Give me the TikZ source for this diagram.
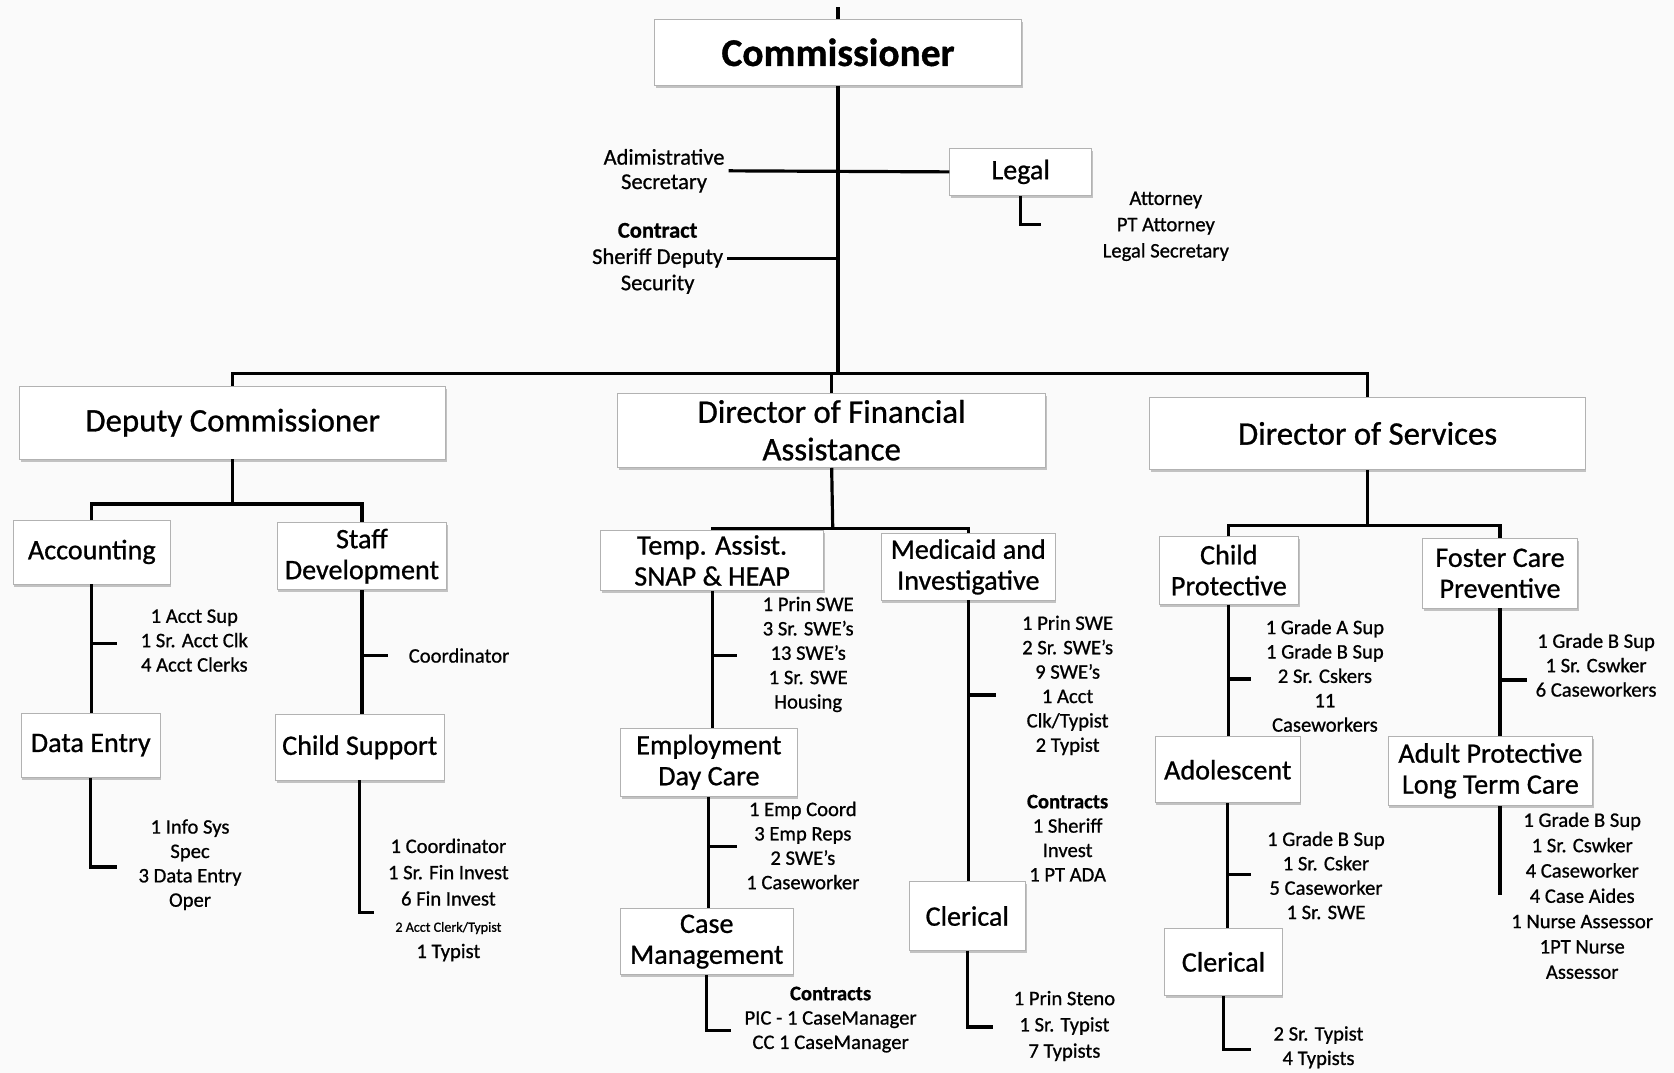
\documentclass[tikz,border=0pt]{standalone}
\usepackage{fontspec}
\setmainfont{Carlito}[FakeBold=0.8]
\usetikzlibrary{positioning, shadows}
\tikzset{%
	conn/.style = {line width = 1.7pt},
	box/.style = {name = #1, draw = gray!60, fill = white, align = center, inner sep = 2pt,
		drop shadow = {shadow xshift = 0.6pt, shadow yshift = -1.4pt, opacity = 0.45},
		font = \fontsize{15}{16.5}\selectfont},
	head/.style = {box = #1, font = \fontsize{17.5}{20}\selectfont},
	list/.style = {name = #1, align = center, inner sep = 2pt, font = \fontsize{11}{13}\selectfont}
}

\begin{document}
\begin{tikzpicture}[x=0.02cm, y=-0.02cm]
			\path [use as bounding box, fill = gray!4] (0,0) rectangle (1568,1005);
			% commissioner
			\node [box = comm, minimum width = 6.88cm, minimum height = 1.24cm, font = \fontsize{21}{24}\selectfont\bfseries] at (785,49) {Commissioner};
			\node [box = legal, minimum width = 2.66cm, minimum height = 0.88cm] at (956,161) {Legal};
			\node [list = adm, font = \fontsize{12}{13}\selectfont] at (622,160) {Adimistrative\\Secretary};
			\node [list = sheriff, font = \fontsize{12}{14}\selectfont] at (616,242) {\textbf{Contract}\\Sheriff Deputy\\Security};
			\node [list = attorney, font = \fontsize{11}{14}\selectfont] at (1092,212) {Attorney\\PT Attorney\\Legal Secretary};
			\coordinate (top) at (785,7);
			\coordinate (bus) at (785,350);
			\coordinate (legal-hook) at (975,210);
			% directors
			\node [head = dep, minimum width = 7.98cm, minimum height = 1.36cm] at (218,396) {Deputy Commissioner};
			\node [head = dfa, minimum width = 8.02cm, minimum height = 1.4cm] at (779,403) {Director of Financial\\Assistance};
			\node [head = dos, minimum width = 8.16cm, minimum height = 1.36cm] at (1281,406) {Director of Services};
			% deputy commissioner
			\node [box = acct, minimum width = 2.94cm, minimum height = 1.2cm] at (86,517) {Accounting};
			\node [box = staff, minimum width = 3.18cm, minimum height = 1.26cm] at (339,521) {Staff\\Development};
			\node [box = dentry, minimum width = 2.6cm, minimum height = 1.2cm] at (85,698) {Data Entry};
			\node [box = csupp, minimum width = 3.16cm, minimum height = 1.22cm] at (337,700) {Child Support};
			\node [list = acct-list] at (182,600) {1 Acct Sup\\1 Sr. Acct Clk\\4 Acct Clerks};
			\node [list = staff-list] at (430,614) {Coordinator};
			\node [list = dentry-list] at (178,810) {1 Info Sys\\Spec\\3 Data Entry\\Oper};
			\node [list = csupp-list, font = \fontsize{11}{14}\selectfont] at (420,843) {1 Coordinator\\1 Sr. Fin Invest\\6 Fin Invest\\{\fontsize{7.5}{9}\selectfont 2 Acct Clerk/Typist}\\1 Typist};
			\coordinate (dep-bus) at (218,472);
			\coordinate (acct-tick) at (110,603);
			\coordinate (staff-tick) at (363,614);
			\coordinate (dentry-hook) at (110,812);
			\coordinate (csupp-hook) at (350,855);
			% financial assistance
			\node [box = temp, minimum width = 4.18cm, minimum height = 1.12cm] at (667,525) {Temp. Assist.\\SNAP \& HEAP};
			\node [box = medic, minimum width = 3.26cm, minimum height = 1.24cm] at (907,531) {Medicaid and\\Investigative};
			\node [box = emp, minimum width = 3.3cm, minimum height = 1.28cm] at (664,714) {Employment\\Day Care};
			\node [box = casem, minimum width = 3.24cm, minimum height = 1.24cm] at (662,882) {Case\\Management};
			\node [box = fcler, minimum width = 2.18cm, minimum height = 1.28cm] at (906,858) {Clerical};
			\node [list = temp-list] at (757,613) {1 Prin SWE\\3 Sr. SWE's\\13 SWE's\\1 Sr. SWE\\Housing};
			\node [list = emp-list] at (752,792) {1 Emp Coord\\3 Emp Reps\\2 SWE's\\1 Caseworker};
			\node [list = casem-list] at (778,955) {\textbf{Contracts}\\PIC - 1 CaseManager\\CC 1 CaseManager};
			\node [list = medic-list] at (1000,642) {1 Prin SWE\\2 Sr. SWE's\\9 SWE's\\1 Acct\\Clk/Typist\\2 Typist};
			\node [list = medic-contracts] at (1000,785) {\textbf{Contracts}\\1 Sheriff\\Invest\\1 PT ADA};
			\node [list = fcler-list, font = \fontsize{11}{14}\selectfont] at (997,961) {1 Prin Steno\\1 Sr. Typist\\7 Typists};
			\coordinate (dfa-bus) at (780,495);
			\coordinate (temp-tick) at (690,614);
			\coordinate (emp-tick) at (690,793);
			\coordinate (medic-tick) at (933,651);
			\coordinate (casem-hook) at (685,965);
			\coordinate (fcler-hook) at (930,962);
			% services
			\node [box = cprot, minimum width = 2.62cm, minimum height = 1.28cm] at (1151,534) {Child\\Protective};
			\node [box = foster, minimum width = 2.9cm, minimum height = 1.3cm] at (1405,537) {Foster Care\\Preventive};
			\node [box = adol, minimum width = 2.72cm, minimum height = 1.24cm] at (1150,721) {Adolescent};
			\node [box = scler, minimum width = 2.2cm, minimum height = 1.26cm] at (1146,901) {Clerical};
			\node [box = adult, minimum width = 3.84cm, minimum height = 1.3cm] at (1396,722) {Adult Protective\\Long Term Care};
			\node [list = cprot-list] at (1241,633) {1 Grade A Sup\\1 Grade B Sup\\2 Sr. Cskers\\11\\Caseworkers};
			\node [list = adol-list] at (1242,820) {1 Grade B Sup\\1 Sr. Csker\\5 Caseworker\\1 Sr. SWE};
			\node [list = scler-list] at (1235,981) {2 Sr. Typist\\4 Typists};
			\node [list = foster-list] at (1495,623) {1 Grade B Sup\\1 Sr. Cswker\\6 Caseworkers};
			\node [list = adult-list, font = \fontsize{11}{13.5}\selectfont] at (1482,839) {1 Grade B Sup\\1 Sr. Cswker\\4 Caseworker\\4 Case Aides\\1 Nurse Assessor\\1PT Nurse\\Assessor};
			\coordinate (dos-bus) at (1281,492);
			\coordinate (cprot-tick) at (1172,636);
			\coordinate (adol-tick) at (1172,819);
			\coordinate (foster-tick) at (1430,637);
			\coordinate (scler-hook) at (1172,983);
			\coordinate (adult-end) at (1405,838);
			% top level lines
			\draw [conn] (top) -- (comm.north);
			\draw [conn] (comm.south) -- (bus);
			\draw [conn] (adm.east) -- (legal.west);
			\draw [conn] (sheriff.east) -- (sheriff.east -| comm.south);
			\draw [conn] (legal.south) |- (legal-hook);
			\draw [conn] (dep.north) |- (bus) -| (dos.north);
			\draw [conn] (dfa.north |- bus) -- (dfa.north);
			% deputy lines
			\draw [conn] (dep.south) -- (dep-bus);
			\draw [conn] (acct.north) |- (dep-bus) -| (staff.north);
			\draw [conn] (acct.south) -- (acct.south |- dentry.north);
			\draw [conn] (acct.south |- acct-tick) -- (acct-tick);
			\draw [conn] (dentry.south) |- (dentry-hook);
			\draw [conn] (staff.south) -- (staff.south |- csupp.north);
			\draw [conn] (staff.south |- staff-tick) -- (staff-tick);
			\draw [conn] (csupp.south) |- (csupp-hook);
			% financial lines
			\draw [conn] (dfa.south) -- (dfa-bus);
			\draw [conn] (temp.north) |- (dfa-bus) -| (medic.north);
			\draw [conn] (temp.south) -- (temp.south |- emp.north);
			\draw [conn] (temp.south |- temp-tick) -- (temp-tick);
			\draw [conn] (emp.south) -- (emp.south |- casem.north);
			\draw [conn] (emp.south |- emp-tick) -- (emp-tick);
			\draw [conn] (casem.south) |- (casem-hook);
			\draw [conn] (medic.south) -- (medic.south |- fcler.north);
			\draw [conn] (medic.south |- medic-tick) -- (medic-tick);
			\draw [conn] (fcler.south) |- (fcler-hook);
			% services lines
			\draw [conn] (dos.south) -- (dos-bus);
			\draw [conn] (cprot.north) |- (dos-bus) -| (foster.north);
			\draw [conn] (cprot.south) -- (cprot.south |- adol.north);
			\draw [conn] (cprot.south |- cprot-tick) -- (cprot-tick);
			\draw [conn] (adol.south) -- (adol.south |- scler.north);
			\draw [conn] (adol.south |- adol-tick) -- (adol-tick);
			\draw [conn] (scler.south) |- (scler-hook);
			\draw [conn] (foster.south) -- (foster.south |- adult.north);
			\draw [conn] (foster.south |- foster-tick) -- (foster-tick);
			\draw [conn] (adult.south -| adult-end) -- (adult-end);
\end{tikzpicture}
\end{document}
